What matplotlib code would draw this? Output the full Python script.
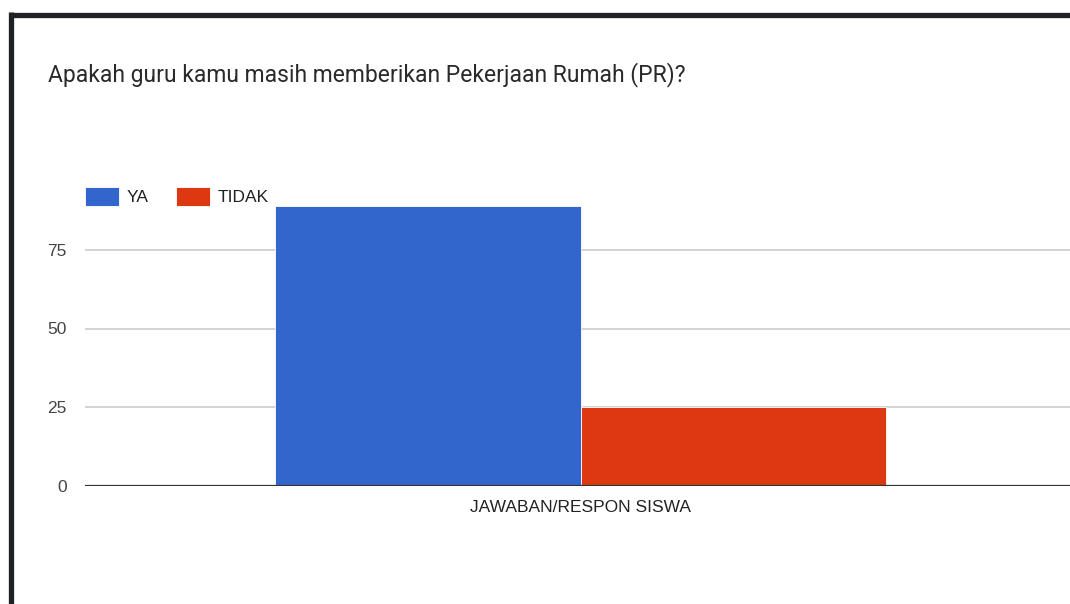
import numpy as np
import matplotlib.pyplot as plt
from matplotlib.lines import Line2D

categories = ["JAWABAN/RESPON SISWA"]
series_names = ["YA", "TIDAK"]
ya_values = [89]
tidak_values = [25]
y_ticks = [0, 25, 50, 75]
title = "Apakah guru kamu masih memberikan Pekerjaan Rumah (PR)?"

colors = ["#3366cc", "#dc3912"]

W, H = 1070, 604
fig = plt.figure(figsize=(W / 100, H / 100), dpi=100)
fig.patch.set_facecolor("white")

# axes placed in pixel units (plot runs off the right edge like the screenshot)
left, right, top, bottom = 85, 1076, 171, 486
ax = fig.add_axes([left / W, (H - bottom) / H, (right - left) / W, (bottom - top) / H])

x = np.arange(len(categories))
bw = 0.3083
ax.bar(x - bw / 2, ya_values, width=bw, color=colors[0], label=series_names[0], zorder=3,
       edgecolor="white", linewidth=0.6)
ax.bar(x + bw / 2, tidak_values, width=bw, color=colors[1], label=series_names[1], zorder=3,
       edgecolor="white", linewidth=0.6)

ax.set_xlim(-0.5, 0.5)
ax.set_ylim(0, 100)
ax.set_yticks(y_ticks)
ax.set_xticks(x)
ax.set_xticklabels(categories)

for s in ax.spines.values():
    s.set_visible(False)
ax.yaxis.grid(True, color="#cccccc", linewidth=1.2, zorder=0)
ax.axhline(0, color="#333333", linewidth=1.6, zorder=4)
ax.tick_params(axis="y", length=0, pad=13, labelsize=12.5, labelcolor="#444444")
ax.tick_params(axis="x", length=0, pad=10, labelsize=12.5, labelcolor="#222222")
for lab in ax.get_xticklabels() + ax.get_yticklabels():
    lab.set_fontfamily("Liberation Sans")

leg = ax.legend(loc="upper left", bbox_to_anchor=(0, (bottom - 187) / (bottom - top)),
                ncol=2, frameon=False, borderpad=0, borderaxespad=0,
                handlelength=1.95, handleheight=1.3, handletextpad=0.46,
                columnspacing=1.55, prop={"family": "Liberation Sans", "size": 12.5})
for t in leg.get_texts():
    t.set_color("#222222")

fig.text(48 / W, 1 - 75 / H, title, fontsize=16.5, family="Roboto", color="#2a2a2a",
         ha="left", va="center")

# dark frame at top and left of the screenshot
fig.add_artist(Line2D([10.5 / W, 1.0], [1 - 14.5 / H, 1 - 14.5 / H], color="#202124",
                      linewidth=3.8, solid_capstyle="butt", transform=fig.transFigure))
fig.add_artist(Line2D([10.5 / W, 10.5 / W], [1 - 12 / H, 0], color="#202124",
                      linewidth=3.8, solid_capstyle="butt", transform=fig.transFigure))

fig.savefig("out.png", dpi=100)
